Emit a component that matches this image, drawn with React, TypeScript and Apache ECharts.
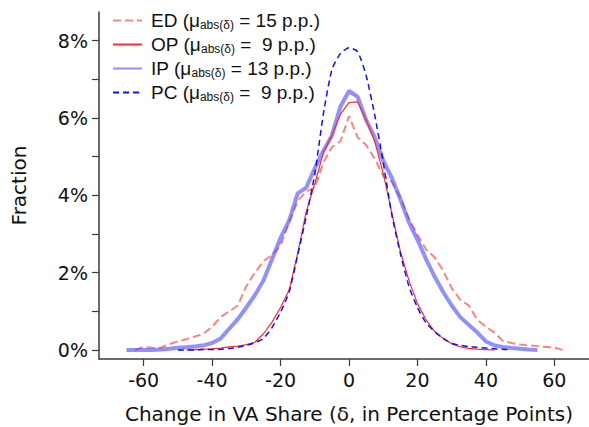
import React, { useEffect, useRef } from "react";
import * as echarts from "echarts";

// Change in value-added share (percentage points), bin centres
const deltas = [
  -65, -62.5, -60, -57.5, -55, -52.5, -50, -47.5, -45, -42.5, -40, -37.5, -35, -32.5, -30, -27.5,
  -25, -22.5, -20, -17.5, -15, -12.5, -10, -7.5, -5, -2.5, 0, 2.5, 5, 7.5, 10, 12.5, 15, 17.5,
  20, 22.5, 25, 27.5, 30, 32.5, 35, 37.5, 40, 42.5, 45, 47.5, 50, 52.5, 55, 57.5, 60, 62.5,
];

// Fraction of observations (%) in each bin
const edShare = [
  null, 0.0, 0.08, 0.06, 0.06, 0.15, 0.22, 0.28, 0.35, 0.42, 0.6, 0.85, 1.0, 1.15, 1.65, 2.0,
  2.3, 2.45, 2.7, 3.3, 3.85, 4.1, 4.2, 4.85, 5.25, 5.4, 6.05, 5.5, 5.3, 4.95, 4.5, 4.35, 3.95, 3.4,
  2.98, 2.6, 2.4, 2.05, 1.6, 1.3, 1.15, 0.78, 0.6, 0.45, 0.23, 0.18, 0.14, 0.12, 0.1, 0.08, 0.06, 0.0,
];
const opShare = [
  null, null, null, null, null, null, null, 0.0, 0.01, 0.02, 0.03, 0.05, 0.08, 0.1, 0.14, 0.2,
  0.42, 0.72, 1.1, 1.55, 2.5, 3.58, 4.3, 5.1, 5.55, 6.1, 6.4, 6.42, 5.95, 5.4, 4.57, 3.55, 2.55, 1.8,
  1.2, 0.78, 0.48, 0.3, 0.16, 0.08, 0.04, 0.02, 0.01, 0.0, null, null, null, null, null, null, null, null,
];
const ipShare = [
  0.0, 0.0, 0.0, 0.0, 0.01, 0.03, 0.06, 0.07, 0.09, 0.12, 0.18, 0.3, 0.55, 0.8, 1.1, 1.42,
  1.8, 2.35, 2.9, 3.35, 4.05, 4.2, 4.7, 5.15, 5.55, 6.3, 6.7, 6.55, 5.95, 5.5, 4.9, 4.45, 3.9, 3.3,
  2.85, 2.35, 1.9, 1.5, 1.15, 0.85, 0.65, 0.45, 0.22, 0.12, 0.08, 0.05, 0.03, 0.01, 0.0, null, null, null,
];
const pcShare = [
  null, null, null, null, null, null, 0.0, 0.0, 0.0, 0.01, 0.01, 0.02, 0.04, 0.07, 0.12, 0.19,
  0.3, 0.58, 0.98, 1.5, 2.45, 3.45, 4.55, 6.1, 7.25, 7.67, 7.82, 7.72, 7.1, 6.08, 4.85, 3.5, 2.5, 1.65,
  1.1, 0.7, 0.48, 0.3, 0.17, 0.12, 0.09, 0.07, 0.05, 0.03, 0.02, 0.0, null, null, null, null, null, null,
];

const seriesNames = ["ED", "OP", "IP", "PC"];
const meanAbsDelta = ["15", " 9", "13", " 9"];

const xTicks = [-60, -40, -20, 0, 20, 40, 60];
const yTicks = [0, 1, 2, 3, 4, 5, 6, 7, 8];
const yLabels = [0, 2, 4, 6, 8];

const AXIS_FONT = "DejaVu Sans, Arial, sans-serif";
const LEGEND_FONT = "Liberation Sans, Arial, sans-serif";

const pairs = (vals: (number | null)[]) =>
  deltas.map((d, i) => [d, vals[i]]).filter((p) => p[1] !== null);

export default function App() {
  const ref = useRef<HTMLDivElement>(null);

  useEffect(() => {
    if (!ref.current) return;
    const chart = echarts.init(ref.current, undefined, { renderer: "svg" });

    const axisColor = "#3a3a3a";
    const textColor = "#111";
    const legendLabel = (name: string) => {
      const i = seriesNames.indexOf(name);
      return `{m|${name} (μ}{s|abs(δ)}{m| = ${meanAbsDelta[i]} p.p.)}`;
    };

    chart.setOption({
      animation: false,
      backgroundColor: "#ffffff",
      grid: {
        left: 99,
        right: 0,
        top: 12,
        bottom: 68,
        containLabel: false,
        outerBoundsMode: "none",
      },
      legend: {
        orient: "vertical",
        left: 112,
        top: 11,
        padding: 0,
        itemWidth: 29,
        itemHeight: 12,
        itemGap: 4,
        itemStyle: { opacity: 0 },
        formatter: legendLabel,
        textStyle: {
          padding: [0, 0, 0, 4],
          rich: {
            m: { fontFamily: LEGEND_FONT, fontSize: 19, color: textColor, lineHeight: 21 },
            s: {
              fontFamily: LEGEND_FONT,
              fontSize: 12,
              color: textColor,
              lineHeight: 21,
              verticalAlign: "bottom",
            },
          },
        },
        data: seriesNames,
      },
      xAxis: {
        type: "value",
        min: -73.05,
        max: 70.12,
        axisLine: { show: true, onZero: false, lineStyle: { color: axisColor, width: 1.5 } },
        axisTick: {
          show: true,
          length: 7,
          customValues: xTicks,
          lineStyle: { color: axisColor, width: 1.2 },
        },
        axisLabel: {
          customValues: xTicks,
          margin: 11,
          fontFamily: AXIS_FONT,
          fontSize: 19,
          color: textColor,
        },
        splitLine: { show: false },
        name: "Change in VA Share (δ, in Percentage Points)",
        nameLocation: "middle",
        nameGap: 45,
        nameTextStyle: {
          fontFamily: AXIS_FONT,
          fontSize: 20,
          color: textColor,
          padding: [0, 0, 0, 10],
        },
      },
      yAxis: {
        type: "value",
        min: -0.233,
        max: 8.743,
        axisLine: { show: true, onZero: false, lineStyle: { color: axisColor, width: 1.5 } },
        axisTick: {
          show: true,
          length: 7,
          customValues: yTicks,
          lineStyle: { color: axisColor, width: 1.2 },
        },
        axisLabel: {
          customValues: yLabels,
          margin: 11,
          fontFamily: AXIS_FONT,
          fontSize: 19,
          color: textColor,
          formatter: (v: number) => `${v}%`,
        },
        splitLine: { show: false },
        name: "Fraction",
        nameLocation: "middle",
        nameGap: 70,
        nameRotate: 90,
        nameTextStyle: { fontFamily: AXIS_FONT, fontSize: 20, color: textColor },
      },
      series: [
        {
          name: "ED",
          type: "line",
          data: pairs(edShare),
          showSymbol: false,
          symbol: "none",
          z: 2,
          lineStyle: { color: "rgba(255,90,90,0.75)", width: 2, type: [8, 4] },
          itemStyle: { color: "rgba(255,90,90,0.75)" },
        },
        {
          name: "OP",
          type: "line",
          data: pairs(opShare),
          showSymbol: false,
          symbol: "none",
          z: 4,
          lineStyle: { color: "#ff2a2a", width: 1.2 },
          itemStyle: { color: "#ff2a2a" },
        },
        {
          name: "IP",
          type: "line",
          data: pairs(ipShare),
          showSymbol: false,
          symbol: "none",
          z: 3,
          lineStyle: { color: "rgba(70,70,255,0.6)", width: 4 },
          itemStyle: { color: "rgba(70,70,255,0.6)" },
        },
        {
          name: "PC",
          type: "line",
          data: pairs(pcShare),
          showSymbol: false,
          symbol: "none",
          smooth: 0.2,
          z: 5,
          lineStyle: { color: "#1010ff", width: 1.5, type: [6, 4] },
          itemStyle: { color: "#1010ff" },
        },
      ],
    });

    return () => chart.dispose();
  }, []);

  return (
    <div
      ref={ref}
      style={{ position: "absolute", left: 0, top: 0, width: 589, height: 427 }}
    />
  );
}
